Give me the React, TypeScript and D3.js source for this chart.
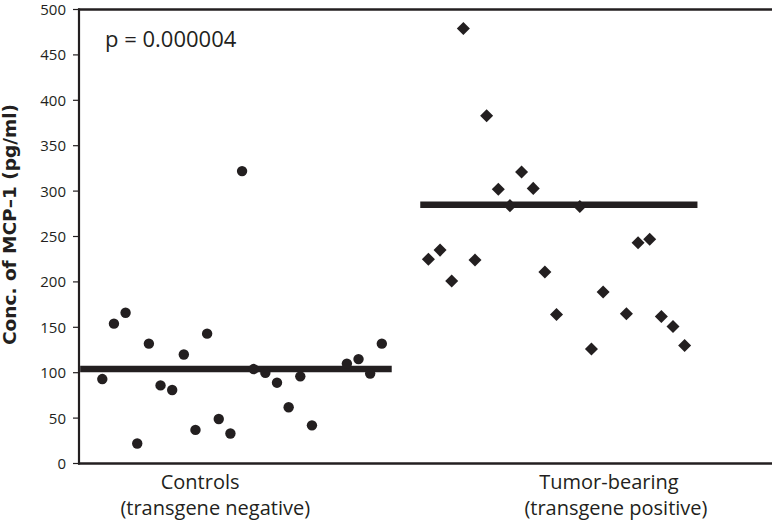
import React from "react";
import * as d3 from "d3";

// Sample position along the horizontal axis and measured concentration (pg/ml)
const controlIndex = [0, 1, 2, 3, 4, 5, 6, 7, 8, 9, 10, 11, 12, 13, 14, 15, 16, 17, 18, 21, 22, 23, 24];
const controlValues = [93, 154, 166, 22, 132, 86, 81, 120, 37, 143, 49, 33, 322, 104, 100, 89, 62, 96, 42, 110, 115, 99, 132];

const tumorIndex = [28, 29, 30, 31, 32, 33, 34, 35, 36, 37, 38, 39, 41, 42, 43, 45, 46, 47, 48, 49, 50];
const tumorValues = [225, 235, 201, 479, 224, 383, 302, 284, 321, 303, 211, 164, 283, 126, 189, 165, 243, 247, 162, 151, 130];

// Group means drawn as horizontal bars: value plus the index span they cover
const groupMeans = [
  { value: 104, from: -1.9, to: 24.85 },
  { value: 285, from: 27.3, to: 51.1 },
];

const yTicks = [0, 50, 100, 150, 200, 250, 300, 350, 400, 450, 500];

const categoryLabels = [
  { lines: ["Controls", "(transgene negative)"], at: [8.4, 9.7] },
  { lines: ["Tumor-bearing", "(transgene positive)"], at: [43.5, 44.1] },
];

const pLabel = "p = 0.000004";
const yTitle = "Conc. of MCP\u20131 (pg/ml)";

const W = 772;
const H = 523;
const INK = "#231f20";

export default function App() {
  const x = d3.scaleLinear().domain([-2, 57.5]).range([79, 772]);
  const y = d3.scaleLinear().domain([0, 500]).range([463.5, 9.5]);
  const diamond = d3.symbol().type(d3.symbolDiamond2).size(108)() as string;

  const font = "'Open Sans', 'DejaVu Sans', sans-serif";

  return (
    <svg
      width={W}
      height={H}
      style={{ position: "absolute", left: 0, top: 0, background: "#fff" }}
    >
      <rect width={W} height={H} fill="#fff" />

      {/* frame: left axis, top and bottom rules */}
      <line x1={79} x2={79} y1={y(500) - 1} y2={y(0) + 1} stroke={INK} strokeWidth={2.2} />
      <line x1={78} x2={W} y1={y(500)} y2={y(500)} stroke={INK} strokeWidth={2.6} />
      <line x1={78} x2={W} y1={y(0)} y2={y(0)} stroke={INK} strokeWidth={2.4} />

      {/* y ticks */}
      {yTicks.map((t) => (
        <g key={t}>
          <line x1={73} x2={79} y1={y(t)} y2={y(t)} stroke={INK} strokeWidth={1.2} />
          <text
            x={66}
            y={y(t)}
            dy="0.36em"
            textAnchor="end"
            fontFamily={font}
            fontSize={15}
            fill={INK}
          >
            {t}
          </text>
        </g>
      ))}

      {/* y title */}
      <text
        transform={`translate(16, ${224.5}) rotate(-90)`}
        textAnchor="middle"
        fontFamily="'DejaVu Sans', sans-serif"
        fontWeight="bold"
        fontSize={18.5}
        fill={INK}
      >
        {yTitle}
      </text>

      {/* mean bars */}
      {groupMeans.map((m, i) => (
        <line
          key={i}
          x1={x(m.from)}
          x2={x(m.to)}
          y1={y(m.value)}
          y2={y(m.value)}
          stroke={INK}
          strokeWidth={6.5}
        />
      ))}

      {/* controls */}
      {controlValues.map((v, i) => (
        <circle key={i} cx={x(controlIndex[i])} cy={y(v)} r={5.2} fill={INK} />
      ))}

      {/* tumor-bearing */}
      {tumorValues.map((v, i) => (
        <path
          key={i}
          d={diamond}
          transform={`translate(${x(tumorIndex[i])}, ${y(v)})`}
          fill={INK}
        />
      ))}

      {/* p-value */}
      <text x={105} y={46.5} fontFamily={font} fontSize={22} fill={INK}>
        {pLabel}
      </text>

      {/* category labels */}
      {categoryLabels.map((c, i) => (
        <g key={i}>
          {c.lines.map((l, j) => (
            <text
              key={j}
              x={x(c.at[j])}
              y={489 + j * 25.5}
              textAnchor="middle"
              fontFamily={font}
              fontSize={20}
              fill={INK}
            >
              {l}
            </text>
          ))}
        </g>
      ))}
    </svg>
  );
}
